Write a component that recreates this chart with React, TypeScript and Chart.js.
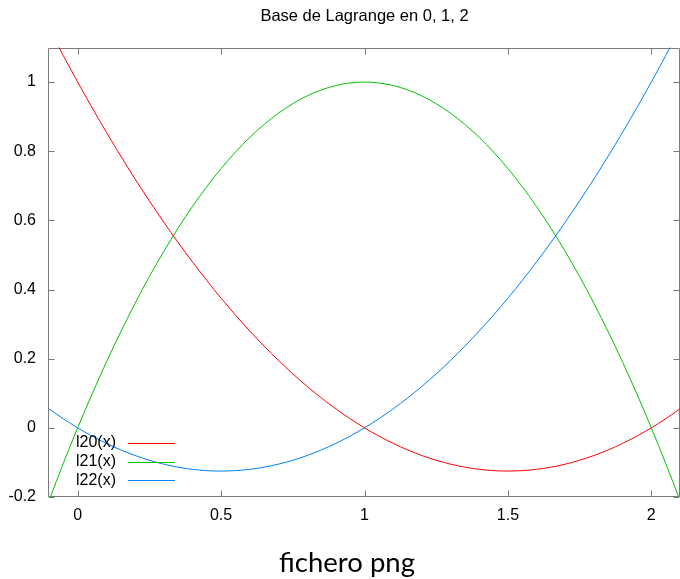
import React, { useEffect, useRef } from "react";
import { Chart, registerables } from "chart.js";

Chart.register(...registerables);

const TITLE = "Base de Lagrange en 0, 1, 2";
const CAPTION = "fichero png";

const xs = [
  -0.1, -0.05, 0, 0.05, 0.1, 0.15, 0.2, 0.25, 0.3, 0.35, 0.4, 0.45, 0.5, 0.55, 0.6,
  0.65, 0.7, 0.75, 0.8, 0.85, 0.9, 0.95, 1, 1.05, 1.1, 1.15, 1.2, 1.25, 1.3, 1.35,
  1.4, 1.45, 1.5, 1.55, 1.6, 1.65, 1.7, 1.75, 1.8, 1.85, 1.9, 1.95, 2, 2.05, 2.1,
];

const l20 = [
  1.155, 1.07625, 1, 0.92625, 0.855, 0.78625, 0.72, 0.65625, 0.595, 0.53625, 0.48,
  0.42625, 0.375, 0.32625, 0.28, 0.23625, 0.195, 0.15625, 0.12, 0.08625, 0.055,
  0.02625, 0, -0.02375, -0.045, -0.06375, -0.08, -0.09375, -0.105, -0.11375, -0.12,
  -0.12375, -0.125, -0.12375, -0.12, -0.11375, -0.105, -0.09375, -0.08, -0.06375,
  -0.045, -0.02375, 0, 0.02625, 0.055,
];

const l21 = [
  -0.21, -0.1025, 0, 0.0975, 0.19, 0.2775, 0.36, 0.4375, 0.51, 0.5775, 0.64, 0.6975,
  0.75, 0.7975, 0.84, 0.8775, 0.91, 0.9375, 0.96, 0.9775, 0.99, 0.9975, 1, 0.9975,
  0.99, 0.9775, 0.96, 0.9375, 0.91, 0.8775, 0.84, 0.7975, 0.75, 0.6975, 0.64, 0.5775,
  0.51, 0.4375, 0.36, 0.2775, 0.19, 0.0975, 0, -0.1025, -0.21,
];

const l22 = [
  0.055, 0.02625, 0, -0.02375, -0.045, -0.06375, -0.08, -0.09375, -0.105, -0.11375,
  -0.12, -0.12375, -0.125, -0.12375, -0.12, -0.11375, -0.105, -0.09375, -0.08,
  -0.06375, -0.045, -0.02375, 0, 0.02625, 0.055, 0.08625, 0.12, 0.15625, 0.195,
  0.23625, 0.28, 0.32625, 0.375, 0.42625, 0.48, 0.53625, 0.595, 0.65625, 0.72,
  0.78625, 0.855, 0.92625, 1, 1.07625, 1.155,
];

const seriesNames = ["l20(x)", "l21(x)", "l22(x)"];
const seriesColors = ["#ff0000", "#00c000", "#0080ff"];

const xTicks = [0, 0.5, 1, 1.5, 2];
const yTicks = [-0.2, 0, 0.2, 0.4, 0.6, 0.8, 1];

const FONT = "'Liberation Sans', Arial, sans-serif";

const framePlugin = {
  id: "gnuFrame",
  beforeDatasetsDraw(chart: any) {
    const { ctx, chartArea, scales } = chart;
    const { left, right, top, bottom } = chartArea;
    ctx.save();
    ctx.strokeStyle = "#7a7a7a";
    ctx.lineWidth = 1;
    const L = Math.round(left) - 0.5;
    const R = Math.round(right) - 0.5;
    const T = Math.round(top) + 0.5;
    const B = Math.round(bottom) - 0.5;
    ctx.beginPath();
    ctx.rect(L, T, R - L, B - T);
    const tl = 6;
    for (const v of xTicks) {
      const px = Math.round(scales.x.getPixelForValue(v)) + 0.5;
      ctx.moveTo(px, B);
      ctx.lineTo(px, B - tl);
      ctx.moveTo(px, T);
      ctx.lineTo(px, T + tl);
    }
    for (const v of yTicks) {
      const py = Math.round(scales.y.getPixelForValue(v)) + 0.5;
      ctx.moveTo(L, py);
      ctx.lineTo(L + tl, py);
      ctx.moveTo(R, py);
      ctx.lineTo(R - tl, py);
    }
    ctx.stroke();
    ctx.restore();
  },
  afterDatasetsDraw(chart: any) {
    const { ctx } = chart;
    ctx.save();
    ctx.font = `16px ${FONT}`;
    ctx.textAlign = "right";
    ctx.textBaseline = "middle";
    seriesNames.forEach((name, i) => {
      const y = 443 + 18.7 * i;
      ctx.fillStyle = "#000";
      ctx.fillText(name, 116, y);
      ctx.strokeStyle = seriesColors[i];
      ctx.lineWidth = 1;
      ctx.beginPath();
      const ly = Math.round(y) + 0.5;
      ctx.moveTo(128, ly);
      ctx.lineTo(175, ly);
      ctx.stroke();
    });
    ctx.restore();
  },
  afterDraw(chart: any) {
    const { ctx } = chart;
    ctx.save();
    ctx.font = "27.5px Lato, 'DejaVu Sans', sans-serif";
    ctx.fillStyle = "#000";
    ctx.textAlign = "center";
    ctx.textBaseline = "middle";
    ctx.fillText(CAPTION, 347, 563);
    ctx.restore();
  },
};

export default function App() {
  const ref = useRef<HTMLCanvasElement>(null);

  useEffect(() => {
    const canvas = ref.current;
    if (!canvas) return;
    const seriesValues = [l20, l21, l22];
    const chart = new Chart(canvas, {
      type: "line",
      data: {
        datasets: seriesValues.map((vals, i) => ({
          label: seriesNames[i],
          data: xs.map((x, j) => ({ x, y: vals[j] })),
          borderColor: seriesColors[i],
          backgroundColor: seriesColors[i],
          borderWidth: 1,
          pointRadius: 0,
          cubicInterpolationMode: "monotone",
          fill: false,
        })),
      },
      options: {
        animation: false,
        responsive: false,
        devicePixelRatio: 1,
        layout: { padding: 0 },
        plugins: {
          legend: { display: false },
          tooltip: { enabled: false },
          title: {
            display: true,
            fullSize: false,
            text: TITLE,
            color: "#000",
            font: { family: FONT, size: 16.5, weight: "normal" },
            padding: { top: 7, bottom: 20.7 },
          },
        },
        scales: {
          x: {
            type: "linear",
            min: -0.1,
            max: 2.1,
            afterBuildTicks: (s: any) => {
              s.ticks = xTicks.map((v) => ({ value: v }));
            },
            afterFit: (s: any) => {
              s.height = 82;
            },
            grid: { display: false, drawTicks: false },
            border: { display: false },
            ticks: {
              color: "#000",
              font: { family: FONT, size: 16 },
              padding: 9,
              maxRotation: 0,
              callback: (v: any) => String(v),
            },
          },
          y: {
            type: "linear",
            min: -0.2,
            max: 1.1,
            afterBuildTicks: (s: any) => {
              s.ticks = yTicks.map((v) => ({ value: v }));
            },
            afterFit: (s: any) => {
              s.width = 49;
            },
            grid: { display: false, drawTicks: false },
            border: { display: false },
            ticks: {
              color: "#000",
              font: { family: FONT, size: 16 },
              padding: 13,
              callback: (v: any) => String(v),
            },
          },
        },
      },
      plugins: [framePlugin],
    });
    return () => chart.destroy();
  }, []);

  return (
    <div style={{ position: "absolute", left: 0, top: 0, width: 680, height: 579 }}>
      <canvas ref={ref} width={680} height={579} style={{ display: "block" }} />
    </div>
  );
}
